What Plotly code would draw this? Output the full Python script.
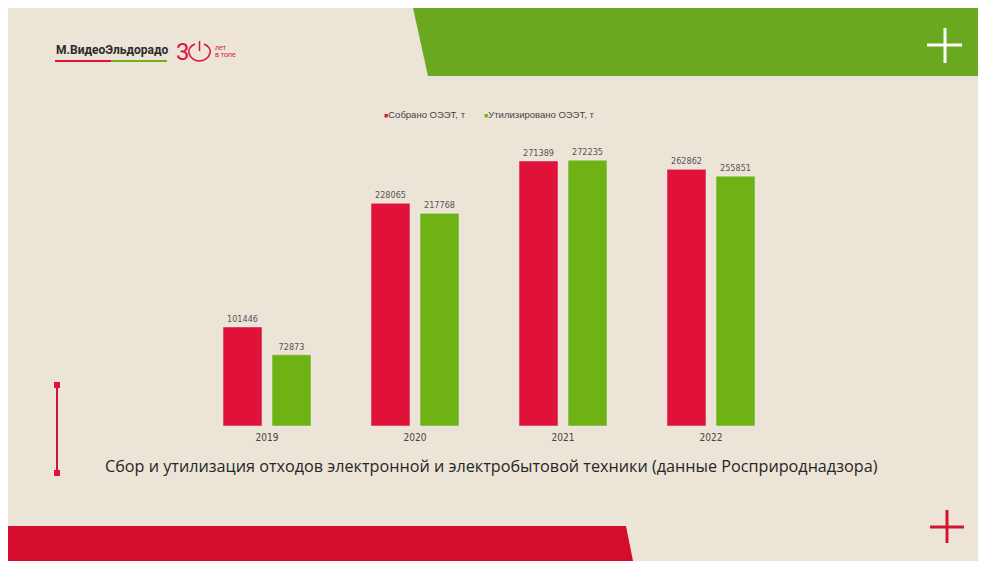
import plotly.graph_objects as go

years = ["2019", "2020", "2021", "2022"]
collected = [101446, 228065, 271389, 262862]
recycled = [72873, 217768, 272235, 255851]
series_names = ["Собрано ОЭЭТ, т", "Утилизировано ОЭЭТ, т"]
title_text = "Сбор и утилизация отходов электронной и электробытовой техники (данные Росприроднадзора)"

W, H = 988, 563
OFF = 8  # page body margin offset
RED = "#e0123a"
GREEN = "#6fb214"
LABEL_FONT = "Liberation Sans Narrow, DejaVu Sans Condensed, sans-serif"


def X(x):
    return (x - OFF) / W


def Y(y):
    return 1 - (y - OFF) / H


fig = go.Figure()
fig.add_trace(go.Bar(x=years, y=collected, name=series_names[0], marker_color=RED,
                     text=[str(v) for v in collected], textposition="outside",
                     textfont=dict(size=9, color="#555555", family=LABEL_FONT),
                     cliponaxis=False, hoverinfo="x+y", showlegend=False))
fig.add_trace(go.Bar(x=years, y=recycled, name=series_names[1], marker_color=GREEN,
                     text=[str(v) for v in recycled], textposition="outside",
                     textfont=dict(size=9, color="#555555", family=LABEL_FONT),
                     cliponaxis=False, hoverinfo="x+y", showlegend=False))

shapes = []
shapes.append(dict(type="rect", xref="paper", yref="paper", x0=X(7), x1=X(978), y0=Y(561), y1=Y(8),
                   fillcolor="#ece4d7", line=dict(width=0), layer="below"))
shapes.append(dict(type="path", xref="paper", yref="paper",
                   path=f"M {X(413)},{Y(8)} L {X(978)},{Y(8)} L {X(978)},{Y(76)} L {X(428)},{Y(76)} Z",
                   fillcolor="#6aa820", line=dict(width=0), layer="below"))
shapes.append(dict(type="path", xref="paper", yref="paper",
                   path=f"M {X(7)},{Y(526)} L {X(626)},{Y(526)} L {X(633)},{Y(561)} L {X(7)},{Y(561)} Z",
                   fillcolor="#d30d2b", line=dict(width=0), layer="below"))
shapes.append(dict(type="line", xref="paper", yref="paper", x0=X(927), x1=X(962), y0=Y(45), y1=Y(45),
                   line=dict(color="white", width=3)))
shapes.append(dict(type="line", xref="paper", yref="paper", x0=X(945), x1=X(945), y0=Y(28), y1=Y(63),
                   line=dict(color="white", width=3)))
shapes.append(dict(type="line", xref="paper", yref="paper", x0=X(930), x1=X(964), y0=Y(527), y1=Y(527),
                   line=dict(color="#d41436", width=3)))
shapes.append(dict(type="line", xref="paper", yref="paper", x0=X(947), x1=X(947), y0=Y(510), y1=Y(543),
                   line=dict(color="#d41436", width=3)))
shapes.append(dict(type="line", xref="paper", yref="paper", x0=X(57), x1=X(57), y0=Y(386), y1=Y(473),
                   line=dict(color="#c8193a", width=2)))
for yy in (385, 473):
    shapes.append(dict(type="rect", xref="paper", yref="paper", x0=X(54), x1=X(60), y0=Y(yy + 3), y1=Y(yy - 3),
                       fillcolor="#e0123a", line=dict(width=0)))
shapes.append(dict(type="line", xref="paper", yref="paper", x0=X(55), x1=X(111), y0=Y(61), y1=Y(61),
                   line=dict(color="#e0123a", width=2)))
shapes.append(dict(type="line", xref="paper", yref="paper", x0=X(111), x1=X(167), y0=Y(61), y1=Y(61),
                   line=dict(color="#6fb214", width=2)))
shapes.append(dict(type="path", xref="paper", yref="paper",
                   path=(f"M {X(195)},{Y(44)} "
                         f"C {X(190)},{Y(46)} {X(188)},{Y(50)} {X(189)},{Y(53)} "
                         f"C {X(190)},{Y(58)} {X(195)},{Y(61)} {X(199)},{Y(61)} "
                         f"C {X(204)},{Y(61)} {X(209)},{Y(58)} {X(210)},{Y(53)} "
                         f"C {X(211)},{Y(50)} {X(209)},{Y(46)} {X(204)},{Y(44)}"),
                   line=dict(color="#e0123a", width=1.5)))
shapes.append(dict(type="line", xref="paper", yref="paper", x0=X(199.5), x1=X(199.5), y0=Y(41), y1=Y(51),
                   line=dict(color="#e0123a", width=1.5)))

annotations = [
    dict(text=title_text, xref="paper", yref="paper", x=X(491), y=Y(466), xanchor="center", yanchor="middle",
         showarrow=False, font=dict(size=16.2, color="#262626", family="Open Sans, sans-serif")),
    dict(text="<b>М.ВидеоЭльдорадо</b>", xref="paper", yref="paper", x=X(54), y=Y(50), xanchor="left",
         yanchor="middle", showarrow=False, font=dict(size=12, color="#2b2b2b", family="Roboto, sans-serif")),
    dict(text="3", xref="paper", yref="paper", x=X(174), y=Y(52), xanchor="left", yanchor="middle",
         showarrow=False, font=dict(size=24, color="#e0123a", family="Roboto, sans-serif")),
    dict(text="лет", xref="paper", yref="paper", x=X(213), y=Y(48), xanchor="left", yanchor="middle",
         showarrow=False, font=dict(size=7, color="#e0123a", family="Roboto, sans-serif")),
    dict(text="в топе", xref="paper", yref="paper", x=X(213), y=Y(55), xanchor="left", yanchor="middle",
         showarrow=False, font=dict(size=7, color="#e0123a", family="Roboto, sans-serif")),
    # legend
    dict(text=f"<span style='color:{RED};font-size:7px'>■</span>{series_names[0]}", xref="paper", yref="paper",
         x=X(382), y=Y(115), xanchor="left", yanchor="middle", showarrow=False,
         font=dict(size=9.5, color="#444444", family="Liberation Sans, sans-serif")),
    dict(text=f"<span style='color:{GREEN};font-size:7px'>■</span>{series_names[1]}", xref="paper", yref="paper",
         x=X(482), y=Y(115), xanchor="left", yanchor="middle", showarrow=False,
         font=dict(size=9.5, color="#444444", family="Liberation Sans, sans-serif")),
]

fig.update_layout(
    width=W, height=H,
    margin=dict(l=0, r=0, t=0, b=0),
    paper_bgcolor="white", plot_bgcolor="rgba(0,0,0,0)",
    barmode="group", bargap=0.338, bargroupgap=0.204,
    showlegend=False,
    xaxis=dict(domain=[X(193), X(785)], showgrid=False, zeroline=False, showline=False, ticks="",
               ticklabelstandoff=4,
               tickfont=dict(size=10, color="#444444", family=LABEL_FONT)),
    yaxis=dict(domain=[Y(426), Y(150)], range=[0, 276 * 1024], visible=False, showgrid=False),
    shapes=shapes,
    annotations=annotations,
)

fig.write_html("out.html")
